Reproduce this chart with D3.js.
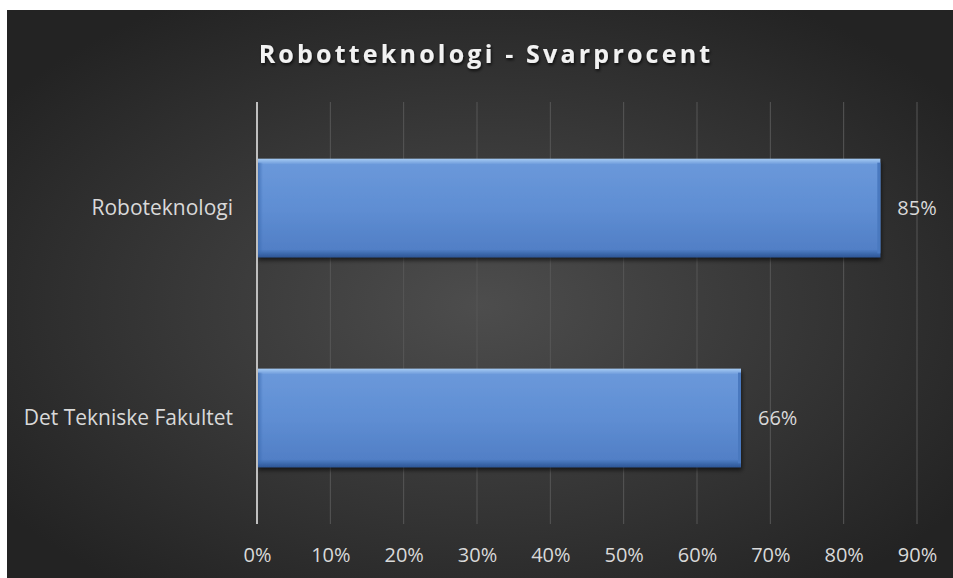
<!DOCTYPE html>
<html>
<head>
<meta charset="utf-8">
<script src="https://cdn.jsdelivr.net/npm/d3@7"></script>
<style>
  body { margin: 0; background: #fff; }
  svg { display: block; }
</style>
</head>
<body>
<svg id="chart" width="953" height="578"></svg>
<script>
var categories = ["Roboteknologi", "Det Tekniske Fakultet"];
var values = [0.85, 0.66];
var ticks = [0, 0.1, 0.2, 0.3, 0.4, 0.5, 0.6, 0.7, 0.8, 0.9];
var title = "Robotteknologi - Svarprocent";

var svg = d3.select("#chart");
var width = 953, height = 578;
var margin = { top: 102, left: 257, bottom: 54, right: 36 };
var font = "'Open Sans', 'Noto Sans', sans-serif";

var defs = svg.append("defs");

// dark radial background
var bg = defs.append("radialGradient").attr("id", "bg")
    .attr("cx", "50%").attr("cy", "52%").attr("r", "62%");
bg.append("stop").attr("offset", "0%").attr("stop-color", "#4d4d4d");
bg.append("stop").attr("offset", "100%").attr("stop-color", "#232323");

// bar gradient (bevel look)
var bar = defs.append("linearGradient").attr("id", "bar")
    .attr("x1", 0).attr("y1", 0).attr("x2", 0).attr("y2", 1);
bar.append("stop").attr("offset", "0%").attr("stop-color", "#a6cbf3");
bar.append("stop").attr("offset", "6%").attr("stop-color", "#6a98da");
bar.append("stop").attr("offset", "50%").attr("stop-color", "#5f8ed3");
bar.append("stop").attr("offset", "92%").attr("stop-color", "#517fc6");
bar.append("stop").attr("offset", "100%").attr("stop-color", "#2c5696");

var side = defs.append("linearGradient").attr("id", "side")
    .attr("x1", 0).attr("y1", 0).attr("x2", 1).attr("y2", 0);
side.append("stop").attr("offset", "0%").attr("stop-color", "#3c6cb2").attr("stop-opacity", 0.9);
side.append("stop").attr("offset", "100%").attr("stop-color", "#3c6cb2").attr("stop-opacity", 0);

var shadow = defs.append("filter").attr("id", "shadow")
    .attr("x", "-5%").attr("y", "-20%").attr("width", "110%").attr("height", "140%");
shadow.append("feDropShadow").attr("dx", 1).attr("dy", 3).attr("stdDeviation", 2)
    .attr("flood-color", "#000").attr("flood-opacity", 0.6);

var tshadow = defs.append("filter").attr("id", "tshadow");
tshadow.append("feDropShadow").attr("dx", 1).attr("dy", 2).attr("stdDeviation", 1.5)
    .attr("flood-color", "#000").attr("flood-opacity", 0.7);

svg.append("rect")
    .attr("x", 7).attr("y", 10)
    .attr("width", width - 7).attr("height", height - 10)
    .attr("fill", "url(#bg)");

var x = d3.scaleLinear().domain([0, 0.9])
    .range([margin.left, width - margin.right]);
var y = d3.scaleBand().domain(categories)
    .range([margin.top, height - margin.bottom])
    .paddingInner(0.53).paddingOuter(0.27);

// gridlines
svg.append("g")
    .selectAll("line")
    .data(ticks.slice(1))
    .enter().append("line")
    .attr("x1", function (d) { return x(d); })
    .attr("x2", function (d) { return x(d); })
    .attr("y1", margin.top)
    .attr("y2", height - margin.bottom)
    .attr("stroke", "#575757")
    .attr("stroke-width", 1);

// bottom axis labels
var xAxis = d3.axisBottom(x)
    .tickValues(ticks)
    .tickFormat(d3.format(".0%"))
    .tickSize(0)
    .tickPadding(24);
var gx = svg.append("g")
    .attr("transform", "translate(0," + (height - margin.bottom) + ")")
    .call(xAxis);
gx.select(".domain").remove();
gx.selectAll("text")
    .attr("fill", "#d9d9d9")
    .style("font-family", font)
    .style("font-size", "20px");

// bars
var bars = svg.append("g").selectAll("g")
    .data(values)
    .enter().append("g");

bars.append("rect")
    .attr("x", x(0))
    .attr("y", function (d, i) { return y(categories[i]); })
    .attr("width", function (d) { return x(d) - x(0); })
    .attr("height", y.bandwidth())
    .attr("fill", "url(#bar)")
    .attr("filter", "url(#shadow)");

bars.append("rect")
    .attr("x", x(0))
    .attr("y", function (d, i) { return y(categories[i]) + 4; })
    .attr("width", 6)
    .attr("height", y.bandwidth() - 8)
    .attr("fill", "url(#side)");

bars.append("rect")
    .attr("x", function (d) { return x(d) - 3; })
    .attr("y", function (d, i) { return y(categories[i]) + 4; })
    .attr("width", 3)
    .attr("height", y.bandwidth() - 8)
    .attr("fill", "#4a79bf");

// value labels
bars.append("text")
    .attr("x", function (d) { return x(d) + 17; })
    .attr("y", function (d, i) { return y(categories[i]) + y.bandwidth() / 2; })
    .attr("dy", "0.35em")
    .attr("fill", "#d9d9d9")
    .style("font-family", font)
    .style("font-size", "20px")
    .text(function (d) { return d3.format(".0%")(d); });

// zero axis line
svg.append("line")
    .attr("x1", x(0)).attr("x2", x(0))
    .attr("y1", margin.top).attr("y2", height - margin.bottom)
    .attr("stroke", "#bfbfbf")
    .attr("stroke-width", 2);

// category labels
var yAxis = d3.axisLeft(y).tickSize(0).tickPadding(24);
var gy = svg.append("g")
    .attr("transform", "translate(" + margin.left + ",0)")
    .call(yAxis);
gy.select(".domain").remove();
gy.selectAll("text")
    .attr("fill", "#d9d9d9")
    .style("font-family", font)
    .style("font-size", "21px");

// title
svg.append("text")
    .attr("x", 486)
    .attr("y", 63)
    .attr("text-anchor", "middle")
    .attr("fill", "#f2f2f2")
    .attr("filter", "url(#tshadow)")
    .style("font-family", font)
    .style("font-weight", "bold")
    .style("font-size", "25px")
    .style("letter-spacing", "3.2px")
    .text(title);
</script>
</body>
</html>
